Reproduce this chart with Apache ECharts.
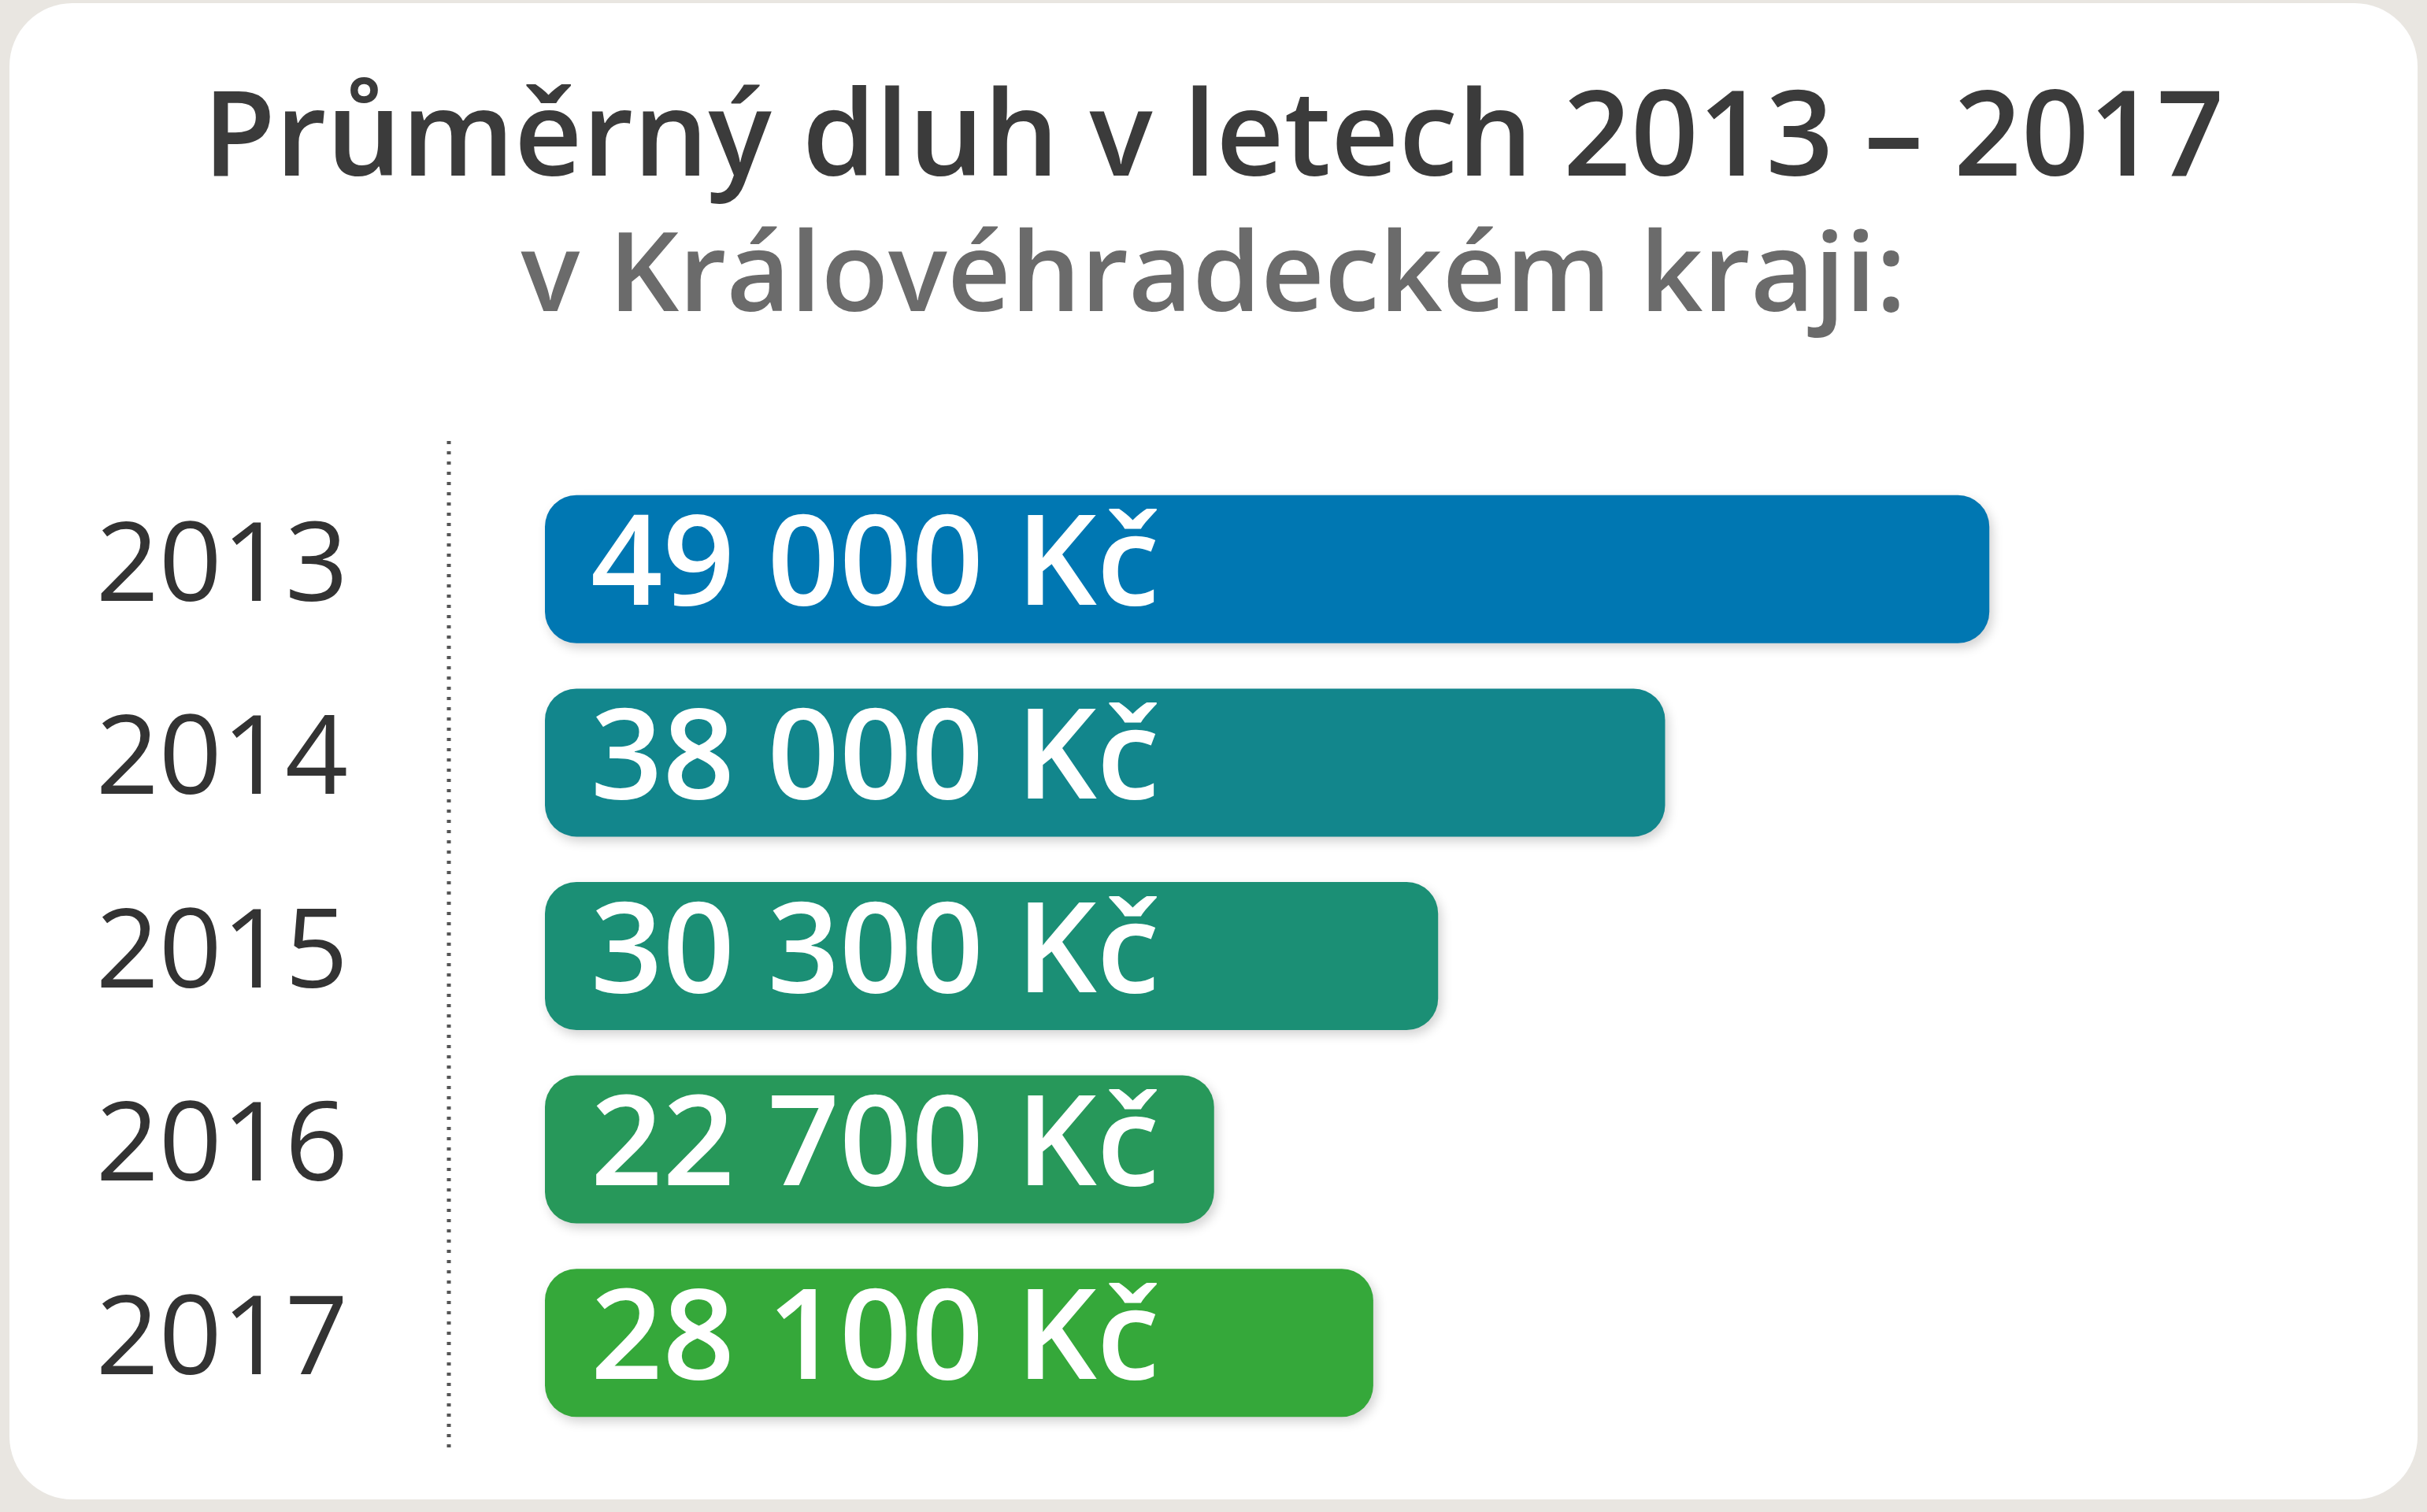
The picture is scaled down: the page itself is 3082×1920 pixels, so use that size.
<!DOCTYPE html>
<html>
<head>
<meta charset="utf-8">
<script src="https://cdn.jsdelivr.net/npm/echarts@6/dist/echarts.min.js"></script>
<style>
    html, body { margin: 0; padding: 0; width: 3082px; height: 1920px; background: #e9e6e1; overflow: hidden; }
    #card { position: absolute; left: 12px; top: 4px; width: 3058px; height: 1900px; background: #ffffff; border-radius: 80px; }
    #chart { position: absolute; left: 0; top: 0; width: 3082px; height: 1920px; }
</style>
</head>
<body>
<div id="card"></div>
<div id="chart"></div>
<script>
    // data
    var years = ['2013', '2014', '2015', '2016', '2017'];
    var debts = [49000, 38000, 30300, 22700, 28100];
    var labels = ['49 000 Kč', '38 000 Kč', '30 300 Kč', '22 700 Kč', '28 100 Kč'];
    var colors = ['#0077b2', '#12868c', '#1b8f75', '#27985a', '#35a83a'];

    var chart = echarts.init(document.getElementById('chart'));

    var barData = debts.map(function (v, i) {
        return { value: v, itemStyle: { color: colors[i] } };
    });

    var opt = {
        title: {
            text: 'Průměrný dluh v letech 2013 – 2017',
            subtext: 'v Královéhradeckém kraji:',
            left: 'center',
            top: 100,
            itemGap: 30,
            textStyle: { fontFamily: 'Open Sans', fontSize: 150, fontWeight: 600, color: '#3b3b3b' },
            subtextStyle: { fontFamily: 'Open Sans', fontSize: 140, fontWeight: 600, color: '#6b6b6b' }
        },
        // svislá tečkovaná čára
        graphic: [{
            type: 'line',
            shape: { x1: 570, y1: 560, x2: 570, y2: 1838 },
            style: { stroke: '#555', lineWidth: 5, lineDash: [4, 9] }
        }],
        grid: { left: 692, right: 144, top: 600, bottom: 92 },
        xAxis: {
            type: 'value', min: 0, max: 60000,
            show: false
        },
        yAxis: {
            type: 'category',
            data: years,
            inverse: true,
            axisTick: { show: false },
            axisLine: { show: false },
            axisLabel: { margin: 250, fontFamily: 'Open Sans', fontSize: 140, color: '#333' }
        },
        series: [{
            type: 'bar',
            data: barData,
            barWidth: 188,
            itemStyle: {
                borderRadius: 40,
                shadowColor: 'rgba(0,0,0,0.18)', shadowBlur: 14, shadowOffsetX: 4, shadowOffsetY: 6
            },
            label: {
                show: true,
                position: 'insideLeft',
                distance: 58,
                formatter: function (p) { return labels[p.dataIndex]; },
                fontFamily: 'Open Sans', fontSize: 160, fontWeight: 600, color: '#ffffff'
            }
        }]
    };

    chart.setOption(opt);
</script>
</body>
</html>
